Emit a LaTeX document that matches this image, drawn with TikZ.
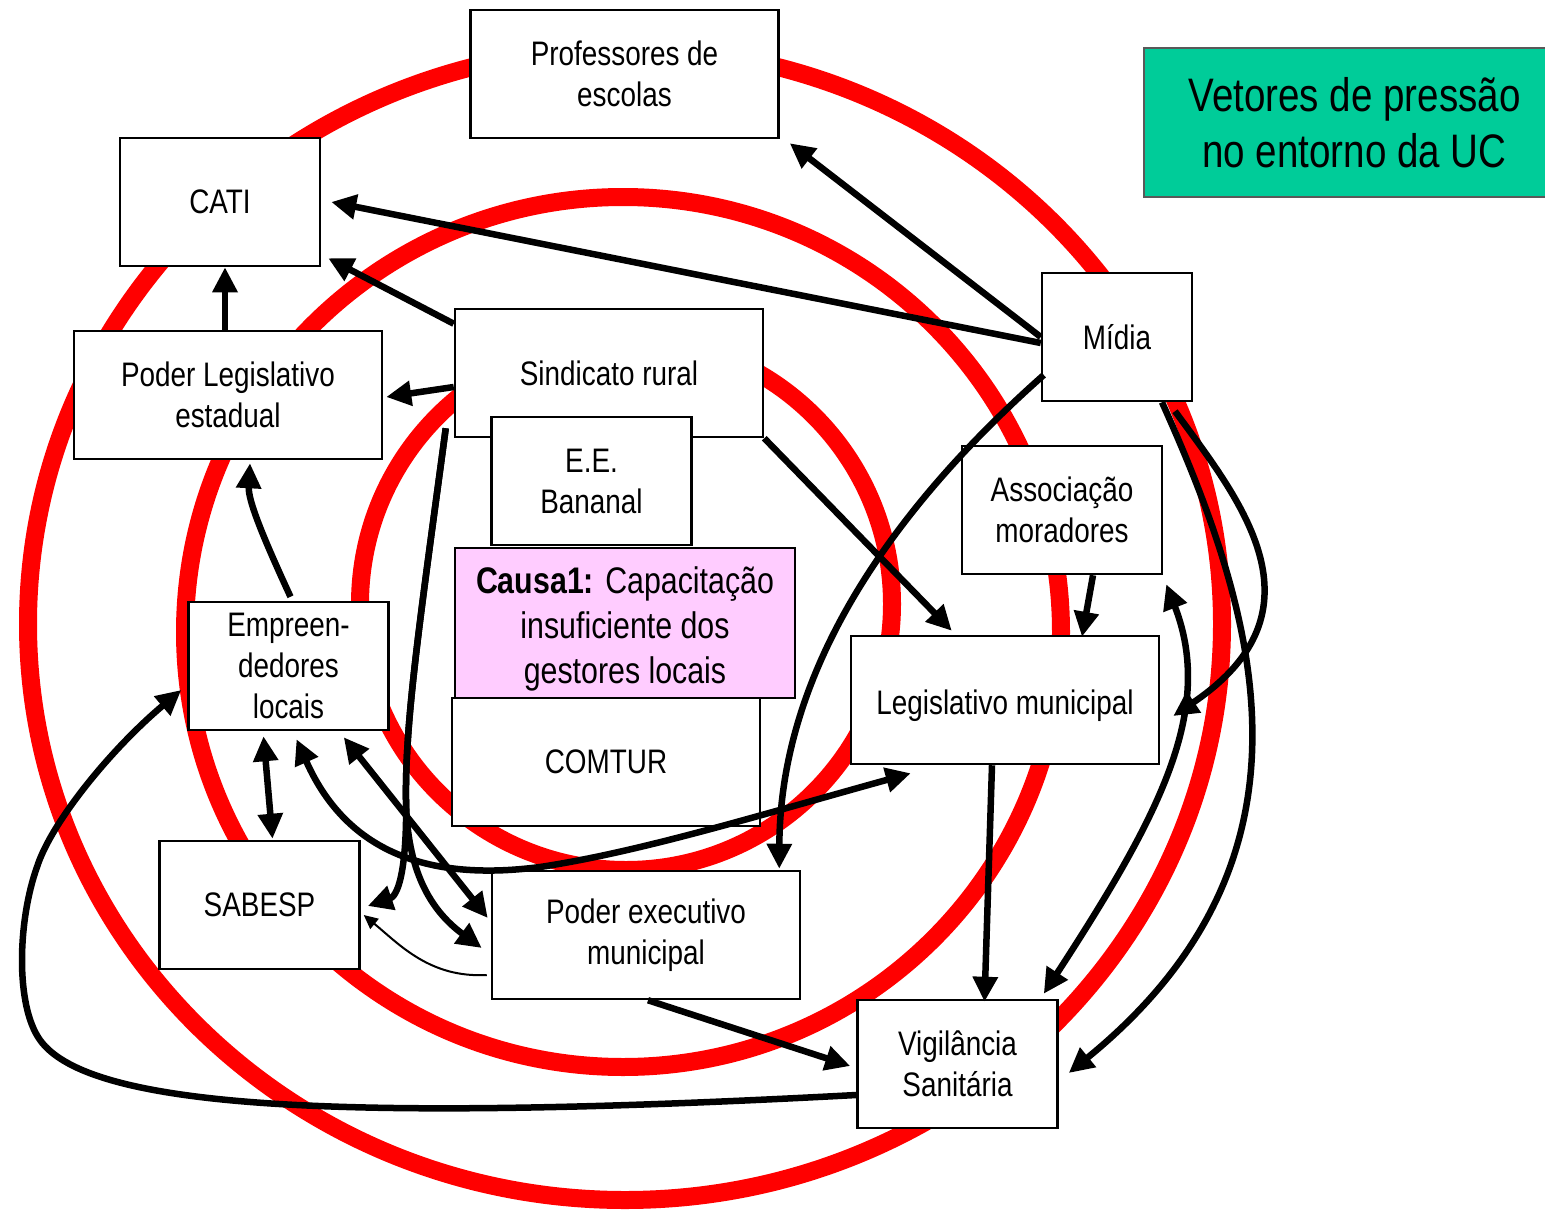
\documentclass[tikz,border=0pt]{standalone}
\usepackage{fontspec}
\setmainfont[FakeStretch=0.82]{Liberation Sans}
\usepackage{tikz}
\usetikzlibrary{shapes.geometric, arrows.meta}
\usetikzlibrary{positioning}
\definecolor{causapink}{RGB}{255,204,255}
\definecolor{vetgreen}{RGB}{0,204,153}
\tikzstyle{ring} = [draw=red, line width=18pt]
\tikzstyle{box} = [rectangle, inner sep=0pt, align=center, draw=black, line width=2.5pt, fill=white, minimum height=128pt, font=\fontsize{34}{41}\selectfont]
\tikzstyle{wide} = [box, minimum width=308pt]
\tikzstyle{narrow} = [box, minimum width=200pt]
\tikzstyle{arrow} = [line width=6.5pt, -{Triangle[length=25pt,width=24pt]}]
\tikzstyle{twoway} = [line width=6.5pt, {Triangle[length=25pt,width=24pt]}-{Triangle[length=25pt,width=24pt]}]
\tikzstyle{thinarrow} = [line width=2pt, -{Triangle[length=14pt,width=13pt]}]

\begin{document}
\begin{tikzpicture}[x=1pt, y=-1pt]
\useasboundingbox (0,0) rectangle (1545,1215);

\draw [ring] (625,624) ellipse [x radius=597, y radius=576];
\draw [ring] (623,632) ellipse [x radius=438, y radius=435];
\draw [ring] (626,604) ellipse [x radius=266, y radius=266];

\node (prof) [wide] at (624.5,74) {Professores de\\escolas};
\node (cati) [narrow] at (220,202) {CATI};
\node (plest) [wide] at (228,395) {Poder Legislativo\\estadual};
\node (sind) [wide] at (609,373) {Sindicato rural};
\node (eeb) [narrow] at (591.5,481) {E.E.\\Bananal};
\node (causa) [box, fill=causapink, minimum width=340pt, minimum height=150pt, font=\fontsize{37}{45}\selectfont] at (625,623) {\rule{0pt}{39pt}\textbf{Causa1:} Capacitação\\insuficiente dos\\gestores locais};
\node (comtur) [wide] at (606,762) {COMTUR};
\node (empre) [narrow] at (288.5,666) {Empreen-\\dedores\\locais};
\node (sabesp) [narrow] at (259.5,905) {SABESP};
\node (pexec) [wide] at (646,935) {Poder executivo\\municipal};
\node (legmun) [wide, text height=31pt, text depth=3pt] at (1005,700) {Legislativo municipal};
\node (midia) [box, minimum width=150pt] at (1117,337) {Mídia};
\node (assoc) [narrow] at (1062,510) {Associação\\moradores};
\node (vigil) [narrow] at (957.5,1064) {Vigilância\\Sanitária};
\node (vetores) [rectangle, draw=black!65, line width=2pt, fill=vetgreen, align=center, minimum width=421pt, minimum height=149pt, font=\fontsize{47}{56}\selectfont] at (1354.5,122.5) {Vetores de pressão\\no entorno da UC};

\draw [arrow] (midia.west) -- ([xshift=10pt,yshift=-4pt]prof.south east);
\draw [arrow] ([yshift=-6pt]midia.west) -- ([xshift=10pt]cati.east);
\draw [arrow] ([yshift=-16pt]sind.north west) -- ([xshift=7pt,yshift=9pt]cati.south east);
\draw [arrow] ([xshift=-3pt]plest.north) -- ([xshift=5pt]cati.south);
\draw [arrow] ([yshift=-14pt]sind.west) -- ([xshift=3pt,yshift=-2pt]plest.east);
\draw [arrow] (sind.south east) -- ([xshift=102pt,yshift=4pt]legmun.north west);
\draw [arrow] ([xshift=-8pt,yshift=10pt]sind.south west) .. controls (420,620) and (405,720) .. (406,800) .. controls (407,860) and (400,895) .. ([xshift=7pt,yshift=-1pt]sabesp.east);
\draw [arrow] ([xshift=-8pt,yshift=10pt]sind.south west) .. controls (420,620) and (405,720) .. (406,800) .. controls (407,870) and (430,910) .. ([xshift=-9pt,yshift=-13pt]pexec.west);
\draw [arrow] ([xshift=2pt,yshift=4pt]empre.north) .. controls (262,535) and (248,500) .. ([xshift=22pt,yshift=-3pt]plest.south);
\draw [twoway] ([xshift=-25pt,yshift=-5pt]empre.south) -- ([xshift=13pt,yshift=1pt]sabesp.north);
\draw [twoway] ([xshift=8pt,yshift=-8pt]empre.south) .. controls (350,860) and (440,880) .. (540,867) .. controls (640,852) and (760,815) .. ([xshift=61pt,yshift=-8pt]legmun.south west);
\draw [twoway] ([xshift=-46pt,yshift=-6pt]empre.south east) -- ([xshift=-3pt,yshift=17pt]pexec.west);
\draw [thinarrow] ([xshift=-4pt,yshift=-40pt]pexec.west) .. controls (430,978) and (400,945) .. ([xshift=3pt,yshift=-10pt]sabesp.east);
\draw [arrow] ([xshift=2pt]pexec.south) -- ([xshift=-6pt,yshift=-2pt]vigil.west);
\draw [arrow] ([yshift=-31pt]vigil.west) .. controls (350,1122) and (90,1110) .. (40,1040) .. controls (15,1005) and (18,920) .. (37,867) .. controls (51,823) and (110,750) .. ([xshift=-6pt,yshift=-24pt]empre.west);
\draw [arrow] ([xshift=3pt,yshift=-38pt]midia.west) .. controls (880,520) and (780,680) .. ([xshift=-22pt,yshift=1pt]pexec.north east);
\draw [arrow] ([xshift=58pt,yshift=-9pt]midia.south) .. controls (1240,500) and (1330,610) .. ([xshift=13pt,yshift=-16pt]legmun.east);
\draw [arrow] ([xshift=45pt]midia.south) .. controls (1260,620) and (1330,860) .. ([xshift=10pt,yshift=-9pt]vigil.east);
\draw [twoway] ([xshift=-15pt,yshift=5pt]vigil.north east) .. controls (1160,815) and (1215,710) .. ([xshift=3pt,yshift=-9pt]assoc.south east);
\draw [arrow] ([xshift=31pt]assoc.south) -- ([xshift=77pt,yshift=-2pt]legmun.north);
\draw [arrow] ([xshift=-13pt]legmun.south) -- ([xshift=27pt,yshift=-3pt]vigil.north);

\end{tikzpicture}
\end{document}
